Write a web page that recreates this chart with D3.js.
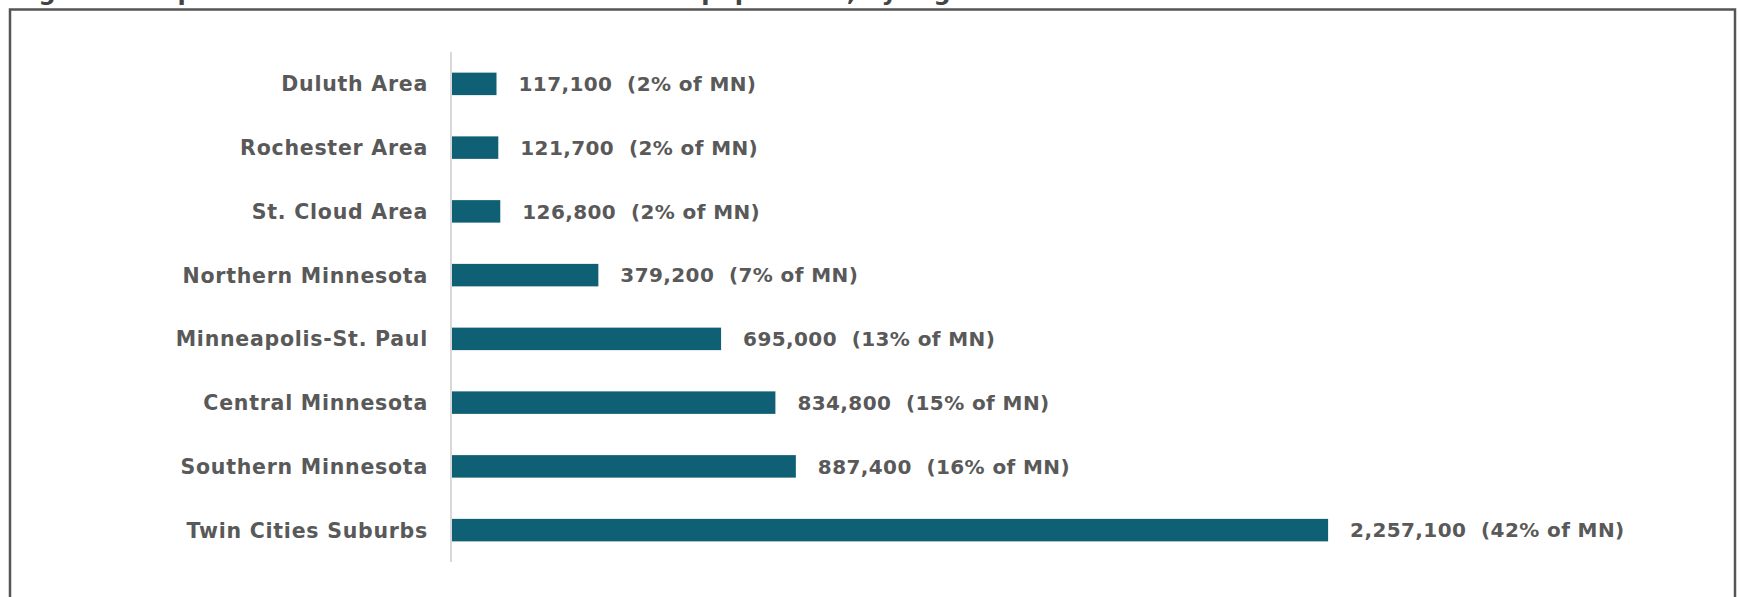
<!DOCTYPE html>
<html>
<head>
<meta charset="utf-8">
<script src="https://cdn.jsdelivr.net/npm/d3@7"></script>
<style>
  body { margin: 0; background: #fff; overflow: hidden; }
  text { font-family: "DejaVu Sans", sans-serif; font-weight: 700; fill: #595959; }
</style>
</head>
<body>
<script>

const width = 1739;
const height = 597;

// data
const regions = ['Duluth Area', 'Rochester Area', 'St. Cloud Area', 'Northern Minnesota',
                 'Minneapolis-St. Paul', 'Central Minnesota', 'Southern Minnesota', 'Twin Cities Suburbs'];
const population = [117100, 121700, 126800, 379200, 695000, 834800, 887400, 2257100];
const shareOfMN = [2, 2, 2, 7, 13, 15, 16, 42];

const title = "Figure 1. Population and share of the state's total population, by region";

const data = regions.map((r, i) => ({region: r, value: population[i], share: shareOfMN[i]}));

let canvas = d3.select('body').append('svg')
                .attr('width', width)
                .attr('height', height);

// frame round the figure (runs off the bottom of the picture)
canvas.append('rect')
        .attr('x', 10)
        .attr('y', 9.5)
        .attr('width', 1725)
        .attr('height', 620)
        .attr('fill', 'none')
        .attr('stroke', '#555')
        .attr('stroke-width', 2.5)

// title, mostly cut off at the top as in the source
canvas.append('text')
        .attr('x', 14)
        .attr('y', 0)
        .style('font-size', '24px')
        .style('fill', '#444')
        .text(title)

const xScale = d3.scaleLinear()
                .domain([0, 2500000])
                .range([451, 451 + 971.5]);

const yScale = d3.scaleBand()
                .domain(regions)
                .range([52, 562])
                .paddingInner(0.647)
                .paddingOuter(0.3235);

const fmt = d3.format(',');

canvas.append('line')
        .attr('x1', xScale(0))
        .attr('x2', xScale(0))
        .attr('y1', 52)
        .attr('y2', 562)
        .attr('stroke', '#d9d9d9')
        .attr('stroke-width', 2)

canvas.selectAll('rect.bar')
        .data(data)
        .enter()
        .append('rect')
        .attr('class', 'bar')
        .attr('x', xScale(0) + 1)
        .attr('y', d => yScale(d.region))
        .attr('width', d => xScale(d.value) - xScale(0) - 1)
        .attr('height', yScale.bandwidth())
        .attr('fill', '#0f6074')

canvas.selectAll('text.label')
        .data(data)
        .enter()
        .append('text')
        .attr('class', 'label')
        .attr('x', 428)
        .attr('y', d => yScale(d.region) + yScale.bandwidth() / 2)
        .attr('dy', '0.36em')
        .attr('text-anchor', 'end')
        .style('font-size', '20.5px')
        .style('letter-spacing', '0.75px')
        .text(d => d.region)

canvas.selectAll('text.value')
        .data(data)
        .enter()
        .append('text')
        .attr('class', 'value')
        .attr('x', d => xScale(d.value) + 22)
        .attr('y', d => yScale(d.region) + yScale.bandwidth() / 2)
        .attr('dy', '0.36em')
        .style('font-size', '20px')
        .style('letter-spacing', '0.4px')
        .style('white-space', 'pre')
        .text(d => `${fmt(d.value)}  (${d.share}% of MN)`)

</script>
</body>
</html>
